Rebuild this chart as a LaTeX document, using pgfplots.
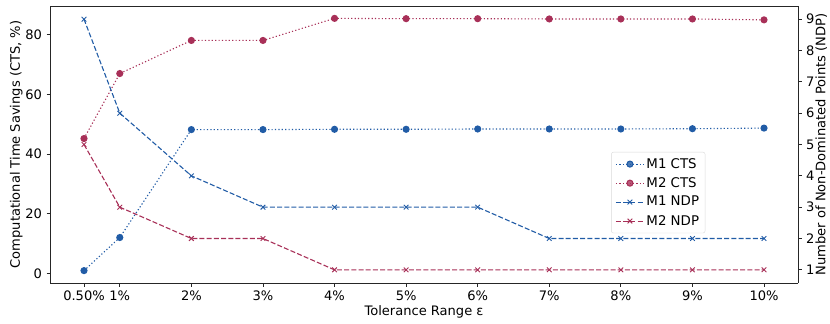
\documentclass[border=0pt]{standalone}
\usepackage{fontspec}
\setmainfont{DejaVu Sans}
\usepackage{pgfplots}
\pgfplotsset{compat=1.18}
\definecolor{cblue}{RGB}{33,92,166}
\definecolor{cred}{RGB}{168,48,88}
\begin{document}
\fontsize{13.1}{15}\selectfont
\begin{tikzpicture}
\useasboundingbox (-50bp,-41bp) rectangle (780bp,283bp);
\pgfplotsset{
  every axis/.append style={
    scale only axis, width=748bp, height=277bp,
    xmin=0.025, xmax=10.475,
    /pgf/number format/assume math mode=true,
    tick style={black!85, line width=0.8bp},
    tick align=outside,
    major tick length=3.5bp,
    axis line style={black!85, line width=0.8bp},
    font=\fontsize{13.1}{15}\selectfont,
    tick label style={font=\fontsize{13.1}{15}\selectfont},
  },
  cts/.style={line width=1.1bp, dash pattern=on 1.2bp off 2.2bp, mark=*, mark size=3bp, mark options={solid}},
  ndp/.style={line width=1.1bp, dash pattern=on 5bp off 2.2bp, mark=x, mark size=3.3bp, mark options={solid, line width=0.9bp}},
}
\begin{axis}[
  at={(0,0)}, anchor=south west,
  ymin=-3.25, ymax=89.65,
  axis y line*=left,
  axis x line*=box,
  xtick={0.5,1,2,3,4,5,6,7,8,9,10},
  xticklabels={0.50\%,1\%,2\%,3\%,4\%,5\%,6\%,7\%,8\%,9\%,10\%},
  ytick={0,20,40,60,80},
  xlabel={Tolerance Range ε},
  ylabel={Computational Time Savings (CTS, \%)},
  xlabel style={at={(axis description cs:0.5,-0.106)}, anchor=center},
  ylabel style={at={(axis description cs:-0.045,0.5)}, anchor=center},
  xtick pos=bottom,
]
\addplot[cblue, cts] coordinates {(0.5,0.9) (1,12.0) (2,48.2) (3,48.2) (4,48.3) (5,48.3) (6,48.4) (7,48.4) (8,48.4) (9,48.5) (10,48.7)};
\addplot[cred, cts] coordinates {(0.5,45.2) (1,67.0) (2,78.1) (3,78.1) (4,85.5) (5,85.4) (6,85.4) (7,85.3) (8,85.3) (9,85.3) (10,85.0)};
\end{axis}
\begin{axis}[
  at={(0,0)}, anchor=south west,
  ymin=0.58, ymax=9.42,
  axis y line*=right,
  axis x line=none,
  ytick={1,2,3,4,5,6,7,8,9},
  ylabel={Number of Non-Dominated Points (NDP)},
  ylabel style={at={(axis description cs:1.031,0.5)}, anchor=center},
  legend style={at={(axis description cs:0.876,0.473)}, anchor=north east,
    draw=black!15, rounded corners=2bp, fill=white, fill opacity=0.8, text opacity=1,
    font=\fontsize{13.4}{15}\selectfont, row sep=3.2bp, inner xsep=4bp, inner ysep=4bp},
  legend cell align=left,
  legend image code/.code={\draw[mark repeat=2,mark phase=2,#1] plot coordinates {(0bp,0bp) (14bp,0bp) (28bp,0bp)};},
]
\addlegendimage{cblue, cts}
\addlegendentry{M1 CTS}
\addlegendimage{cred, cts}
\addlegendentry{M2 CTS}
\addplot[cblue, ndp] coordinates {(0.5,9) (1,6) (2,4) (3,3) (4,3) (5,3) (6,3) (7,2) (8,2) (9,2) (10,2)};
\addlegendentry{M1 NDP}
\addplot[cred, ndp] coordinates {(0.5,5) (1,3) (2,2) (3,2) (4,1) (5,1) (6,1) (7,1) (8,1) (9,1) (10,1)};
\addlegendentry{M2 NDP}
\end{axis}
\end{tikzpicture}
\end{document}
